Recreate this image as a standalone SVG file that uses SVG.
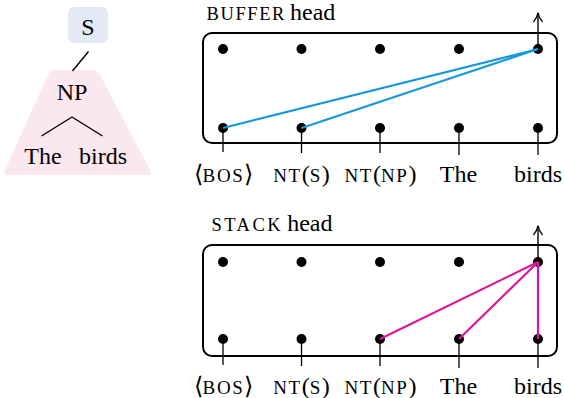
<svg xmlns="http://www.w3.org/2000/svg" width="564" height="398" viewBox="0 0 564 398">
<defs>
<marker id="arr" viewBox="0 0 12 10" refX="10" refY="5" markerWidth="12" markerHeight="10" markerUnits="userSpaceOnUse" orient="auto">
<path d="M1,0.5 Q5,4 10.5,5 Q5,6 1,9.5" fill="none" stroke="#000" stroke-width="1.3"/>
</marker>
</defs>

<g id="tree">
<path d="M56,70 L91,70 Q97,70 100,75 L150,170 Q153,175 147,175 L8,175 Q2,175 5,170 L48,75 Q50,70 56,70 Z" fill="#fbe7f0"/>
<rect x="68" y="7" width="40" height="36" rx="6" fill="#e3eaf6"/>
<text x="88" y="35" font-family="Liberation Serif" font-size="24" text-anchor="middle">S</text>
<line stroke="#000" stroke-width="1.4" x1="88.5" y1="51.5" x2="72.5" y2="71"/>
<text x="72" y="99.5" font-family="Liberation Serif" font-size="24" text-anchor="middle">NP</text>
<line stroke="#000" stroke-width="1.4" x1="72" y1="117" x2="41.5" y2="136"/>
<line stroke="#000" stroke-width="1.4" x1="72" y1="117" x2="102.5" y2="136"/>
<text x="43" y="163.5" font-family="Liberation Serif" font-size="24" text-anchor="middle">The</text>
<text x="103" y="163.5" font-family="Liberation Serif" font-size="24" text-anchor="middle">birds</text>
</g>

<g id="buffer">
<text x="206.5" y="19.5" font-family="Liberation Serif" font-size="24"><tspan font-size="18.5" letter-spacing="1.6">BUFFER</tspan><tspan dx="4">head</tspan></text>
<rect fill="none" stroke="#000" stroke-width="2" x="203" y="33" width="354" height="110" rx="9"/>
<g fill="#000">
<circle cx="223" cy="49" r="5"/><circle cx="301.5" cy="49" r="5"/><circle cx="380" cy="49" r="5"/><circle cx="459" cy="49" r="5"/><circle cx="538" cy="49" r="5"/>
<circle cx="223" cy="128" r="5"/><circle cx="301.5" cy="128" r="5"/><circle cx="380" cy="128" r="5"/><circle cx="459" cy="128" r="5"/><circle cx="538" cy="128" r="5"/>
</g>
<g stroke="#000" stroke-width="1.3">
<line x1="223" y1="128" x2="223" y2="152"/>
<line x1="301.5" y1="128" x2="301.5" y2="153"/>
<line x1="380" y1="128" x2="380" y2="153"/>
<line x1="459" y1="128" x2="459" y2="155"/>
<line x1="538" y1="128" x2="538" y2="155"/>
</g>
<text x="223.5" y="182" font-family="Liberation Serif" font-size="24" text-anchor="middle">⟨<tspan font-size="19" letter-spacing="1.6">BOS</tspan>⟩</text>
<text x="301.5" y="182" font-family="Liberation Serif" font-size="24" text-anchor="middle"><tspan font-size="19" letter-spacing="1.6">NT</tspan>(<tspan font-size="19" letter-spacing="1.6">S</tspan>)</text>
<text x="380.5" y="182" font-family="Liberation Serif" font-size="24" text-anchor="middle"><tspan font-size="19" letter-spacing="1.6">NT</tspan>(<tspan font-size="19" letter-spacing="1.6">NP</tspan>)</text>
<text x="458.5" y="182" font-family="Liberation Serif" font-size="24" text-anchor="middle">The</text>
<text x="538" y="182" font-family="Liberation Serif" font-size="24" text-anchor="middle">birds</text>
</g>

<g id="stack">
<text x="211.5" y="231" font-family="Liberation Serif" font-size="24"><tspan font-size="18.5" letter-spacing="2.5">STACK</tspan><tspan dx="4">head</tspan></text>
<rect fill="none" stroke="#000" stroke-width="2" x="203" y="245" width="354" height="111" rx="9"/>
<g fill="#000">
<circle cx="223" cy="262" r="5"/><circle cx="301.5" cy="262" r="5"/><circle cx="380" cy="262" r="5"/><circle cx="459" cy="262" r="5"/><circle cx="538" cy="262" r="5"/>
<circle cx="223" cy="339" r="5"/><circle cx="301.5" cy="339" r="5"/><circle cx="380" cy="339" r="5"/><circle cx="459" cy="339" r="5"/><circle cx="538" cy="339" r="5"/>
</g>
<g stroke="#000" stroke-width="1.3">
<line x1="223" y1="339" x2="223" y2="365"/>
<line x1="301.5" y1="339" x2="301.5" y2="366"/>
<line x1="380" y1="339" x2="380" y2="366"/>
<line x1="459" y1="339" x2="459" y2="368"/>
<line x1="538" y1="339" x2="538" y2="368"/>
</g>
<text x="223.5" y="394" font-family="Liberation Serif" font-size="24" text-anchor="middle">⟨<tspan font-size="19" letter-spacing="1.6">BOS</tspan>⟩</text>
<text x="301.5" y="394" font-family="Liberation Serif" font-size="24" text-anchor="middle"><tspan font-size="19" letter-spacing="1.6">NT</tspan>(<tspan font-size="19" letter-spacing="1.6">S</tspan>)</text>
<text x="380.5" y="394" font-family="Liberation Serif" font-size="24" text-anchor="middle"><tspan font-size="19" letter-spacing="1.6">NT</tspan>(<tspan font-size="19" letter-spacing="1.6">NP</tspan>)</text>
<text x="458.5" y="394" font-family="Liberation Serif" font-size="24" text-anchor="middle">The</text>
<text x="538" y="394" font-family="Liberation Serif" font-size="24" text-anchor="middle">birds</text>
</g>

<g id="connectors">
<line stroke="#000" stroke-width="1.4" x1="538" y1="49" x2="538" y2="13" marker-end="url(#arr)"/>
<line stroke="#1798db" stroke-width="2.2" x1="538" y1="49" x2="223" y2="128"/>
<line stroke="#1798db" stroke-width="2.2" x1="538" y1="49" x2="301.5" y2="128"/>
<line stroke="#000" stroke-width="1.4" x1="538" y1="262" x2="538" y2="226" marker-end="url(#arr)"/>
<line stroke="#e0149a" stroke-width="2.2" x1="538" y1="262" x2="380" y2="339"/>
<line stroke="#e0149a" stroke-width="2.2" x1="538" y1="262" x2="459" y2="339"/>
<line stroke="#e0149a" stroke-width="2.2" x1="538" y1="262" x2="538" y2="339"/>
</g>
</svg>
